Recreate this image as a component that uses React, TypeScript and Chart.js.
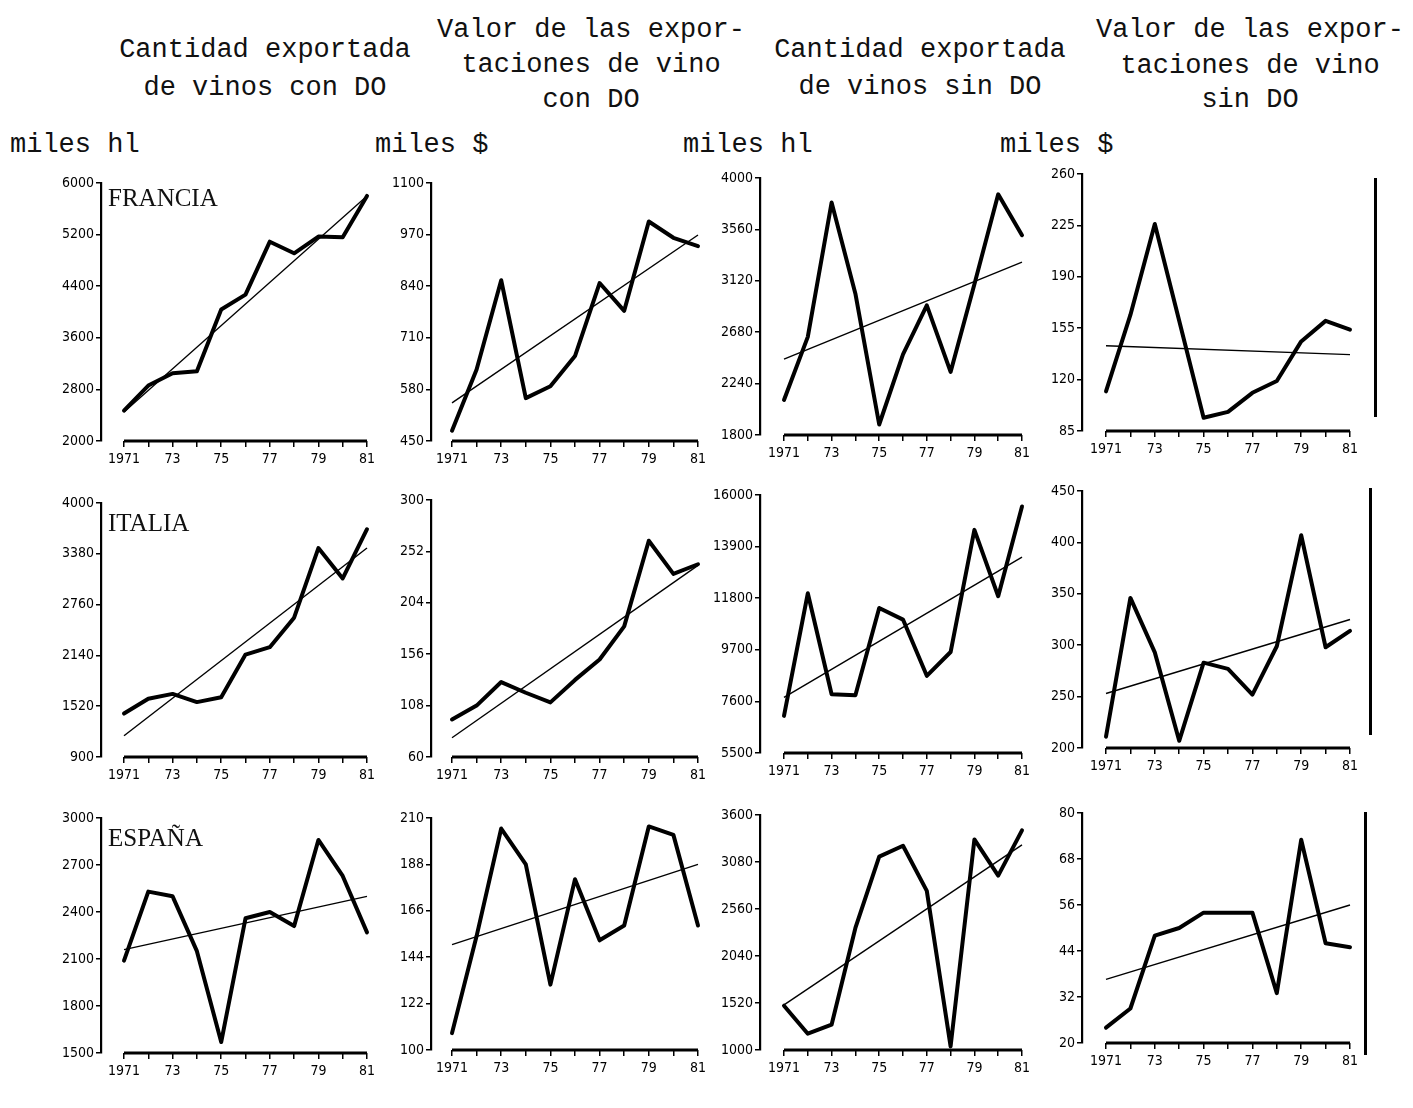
import React, { useEffect, useRef } from "react";
import { Chart, registerables } from "chart.js";
Chart.register(...registerables);

// ---------- data ----------
const years = [1971, 1972, 1973, 1974, 1975, 1976, 1977, 1978, 1979, 1980, 1981];
const trendYears = [1971, 1981];
const xTickLabels = ["1971", "", "73", "", "75", "", "77", "", "79", "", "81"];

const columnTitles = [
  ["Cantidad exportada", "de vinos con DO"],
  ["Valor de las expor-", "taciones de vino", "con DO"],
  ["Cantidad exportada", "de vinos sin DO"],
  ["Valor de las expor-", "taciones de vino", "sin DO"],
];
const unitLabels = ["miles hl", "miles $", "miles hl", "miles $"];
const countries = ["FRANCIA", "ITALIA", "ESPAÑA"];

// FRANCIA
const frCantDO = [2470, 2860, 3050, 3080, 4040, 4270, 5090, 4910, 5170, 5160, 5800];
const frCantDOTrend = [2450, 5800];
const frCantDOTicks = [2000, 2800, 3600, 4400, 5200, 6000];
const frValDO = [476, 630, 855, 558, 588, 664, 848, 778, 1003, 962, 941];
const frValDOTrend = [546, 969];
const frValDOTicks = [450, 580, 710, 840, 970, 1100];
const frCantSin = [2100, 2640, 3790, 3010, 1890, 2490, 2910, 2340, 3090, 3860, 3510];
const frCantSinTrend = [2450, 3280];
const frCantSinTicks = [1800, 2240, 2680, 3120, 3560, 4000];
const frValSin = [112, 164, 226, 160, 94, 98, 111, 119, 146, 160, 154];
const frValSinTrend = [143, 137];
const frValSinTicks = [85, 120, 155, 190, 225, 260];

// ITALIA
const itCantDO = [1430, 1610, 1670, 1570, 1630, 2150, 2240, 2600, 3450, 3080, 3680];
const itCantDOTrend = [1160, 3450];
const itCantDOTicks = [900, 1520, 2140, 2760, 3380, 4000];
const itValDO = [95, 108, 130, 120, 111, 132, 151, 182, 262, 231, 240];
const itValDOTrend = [78, 239];
const itValDOTicks = [60, 108, 156, 204, 252, 300];
const itCantSin = [7010, 12000, 7890, 7850, 11400, 10930, 8640, 9610, 14580, 11880, 15530];
const itCantSinTrend = [7760, 13470];
const itCantSinTicks = [5500, 7600, 9700, 11800, 13900, 16000];
const itValSin = [211, 346, 293, 207, 283, 277, 252, 299, 407, 298, 314];
const itValSinTrend = [253, 325];
const itValSinTicks = [200, 250, 300, 350, 400, 450];

// ESPAÑA
const esCantDO = [2090, 2530, 2500, 2150, 1570, 2360, 2400, 2310, 2860, 2630, 2270];
const esCantDOTrend = [2160, 2500];
const esCantDOTicks = [1500, 1800, 2100, 2400, 2700, 3000];
const esValDO = [108, 154, 205, 188, 131, 181, 152, 159, 206, 202, 159];
const esValDOTrend = [150, 188];
const esValDOTicks = [100, 122, 144, 166, 188, 210];
const esCantSin = [1490, 1180, 1280, 2350, 3140, 3260, 2760, 1040, 3330, 2930, 3430];
const esCantSinTrend = [1500, 3270];
const esCantSinTicks = [1000, 1520, 2040, 2560, 3080, 3600];
const esValSin = [24, 29, 48, 50, 54, 54, 54, 33, 73, 46, 45];
const esValSinTrend = [36.6, 56];
const esValSinTicks = [20, 32, 44, 56, 68, 80];

// ---------- layout ----------
type Geom = { ax: number; x71: number; x81: number; top: number; bot: number };
const colAx = [101, 431, 760, 1082];
const colX71 = [124, 452, 784, 1106];
const colX81 = [367, 698, 1022, 1350];
const rowTops = [
  [183, 183, 178, 174],
  [503, 500, 495, 491],
  [818, 818, 815, 813],
];
const rowBots = [
  [441, 441, 435, 431],
  [757, 757, 753, 748],
  [1053, 1050, 1050, 1043],
];

const panels = [
  [
    { v: frCantDO, t: frCantDOTrend, k: frCantDOTicks },
    { v: frValDO, t: frValDOTrend, k: frValDOTicks },
    { v: frCantSin, t: frCantSinTrend, k: frCantSinTicks },
    { v: frValSin, t: frValSinTrend, k: frValSinTicks },
  ],
  [
    { v: itCantDO, t: itCantDOTrend, k: itCantDOTicks },
    { v: itValDO, t: itValDOTrend, k: itValDOTicks },
    { v: itCantSin, t: itCantSinTrend, k: itCantSinTicks },
    { v: itValSin, t: itValSinTrend, k: itValSinTicks },
  ],
  [
    { v: esCantDO, t: esCantDOTrend, k: esCantDOTicks },
    { v: esValDO, t: esValDOTrend, k: esValDOTicks },
    { v: esCantSin, t: esCantSinTrend, k: esCantSinTicks },
    { v: esValSin, t: esValSinTrend, k: esValSinTicks },
  ],
];

const Y_W = 52;
const X_H = 36;
const PAD_T = 12;
const PAD_R = 22;
const fontFam = "'DejaVu Sans Condensed', 'Liberation Sans Narrow', 'Roboto Condensed', 'DejaVu Sans', sans-serif";
const yFont = { family: fontFam, size: 14 };
const xFont = { family: fontFam, size: 14 };

const xAxisLine = {
  id: "xAxisLine",
  afterDraw(chart: any) {
    const { ctx, chartArea, scales } = chart;
    const x0 = scales.x.getPixelForValue(years[0]);
    const x1 = scales.x.getPixelForValue(years[years.length - 1]);
    ctx.save();
    ctx.strokeStyle = "#000";
    ctx.lineWidth = 3;
    ctx.beginPath();
    ctx.moveTo(x0, chartArea.bottom);
    ctx.lineTo(x1, chartArea.bottom);
    ctx.stroke();
    ctx.restore();
  },
};

function Panel({ values, trend, ticks, g }: { values: number[]; trend: number[]; ticks: number[]; g: Geom }) {
  const ref = useRef<HTMLCanvasElement>(null);
  const width = Y_W + (g.x81 - g.ax) + PAD_R;
  const height = PAD_T + (g.bot - g.top) + X_H;
  useEffect(() => {
    const pxPerYear = (g.x81 - g.x71) / 10;
    const xmin = 1971 - (g.x71 - g.ax) / pxPerYear;
    const chart = new Chart(ref.current as HTMLCanvasElement, {
      type: "line",
      data: {
        datasets: [
          {
            data: trendYears.map((x, i) => ({ x, y: trend[i] })),
            borderColor: "#000",
            borderWidth: 1.4,
            pointRadius: 0,
            clip: false as any,
          },
          {
            data: years.map((x, i) => ({ x, y: values[i] })),
            borderColor: "#000",
            borderWidth: 4,
            borderJoinStyle: "round",
            borderCapStyle: "round",
            pointRadius: 0,
            clip: false as any,
          },
        ],
      },
      options: {
        responsive: false,
        animation: false,
        layout: { padding: { top: PAD_T, right: PAD_R, left: 0, bottom: 0 } },
        plugins: { legend: { display: false }, tooltip: { enabled: false } },
        scales: {
          x: {
            type: "linear",
            min: xmin,
            max: 1981,
            afterBuildTicks: (s: any) => {
              s.ticks = years.map((v) => ({ value: v }));
            },
            afterFit: (s: any) => {
              s.height = X_H;
            },
            grid: { display: true, drawOnChartArea: false, drawTicks: true, tickLength: 6, color: "#000", lineWidth: 1.5 },
            border: { display: false },
            ticks: {
              autoSkip: false,
              maxRotation: 0,
              color: "#000",
              padding: 4,
              font: xFont,
              callback: (_v: any, i: number) => xTickLabels[i],
            },
          },
          y: {
            type: "linear",
            min: ticks[0],
            max: ticks[ticks.length - 1],
            afterBuildTicks: (s: any) => {
              s.ticks = ticks.map((v) => ({ value: v }));
            },
            afterFit: (s: any) => {
              s.width = Y_W;
            },
            grid: { display: true, drawOnChartArea: false, drawTicks: true, tickLength: 5, color: "#000", lineWidth: 1.5 },
            border: { display: true, color: "#000", width: 2.2 },
            ticks: {
              color: "#000",
              padding: 2,
              font: yFont,
              callback: (v: any) => String(v),
            },
          },
        },
      },
      plugins: [xAxisLine],
    });
    return () => chart.destroy();
  }, []);
  return (
    <canvas
      ref={ref}
      width={width}
      height={height}
      style={{ position: "absolute", left: g.ax - Y_W, top: g.top - PAD_T, width, height }}
    />
  );
}

const titleX = [265, 591, 920, 1250];
const titleY = [[50, 88], [30, 65, 100], [50, 87], [30, 66, 100]];
const unitX = [10, 375, 683, 1000];
const countryY = [198, 523, 838];
const sideLines = [
  { x: 1374, y0: 178, y1: 417 },
  { x: 1369, y0: 488, y1: 735 },
  { x: 1364, y0: 812, y1: 1055 },
];

export default function App() {
  const mono = "'Liberation Mono', 'Courier New', monospace";
  return (
    <div style={{ position: "absolute", left: 0, top: 0, width: 1413, height: 1108, background: "#fff", overflow: "hidden" }}>
      {columnTitles.map((lines, c) =>
        lines.map((txt, j) => (
          <div
            key={`t${c}${j}`}
            style={{
              position: "absolute",
              left: titleX[c] - 200,
              width: 400,
              textAlign: "center",
              top: titleY[c][j] - 15,
              fontFamily: mono,
              fontSize: 27,
              lineHeight: "30px",
              color: "#111",
              whiteSpace: "pre",
            }}
          >
            {txt}
          </div>
        ))
      )}
      {unitLabels.map((u, c) => (
        <div
          key={`u${c}`}
          style={{ position: "absolute", left: unitX[c], top: 130, fontFamily: mono, fontSize: 27, lineHeight: "30px", color: "#111", whiteSpace: "pre" }}
        >
          {u}
        </div>
      ))}
      {countries.map((name, r) => (
        <div
          key={`c${r}`}
          style={{
            position: "absolute",
            left: 108,
            top: countryY[r] - 15,
            fontFamily: "'Liberation Serif', 'Times New Roman', serif",
            fontSize: 25,
            lineHeight: "30px",
            color: "#111",
            zIndex: 2,
          }}
        >
          {name}
        </div>
      ))}
      {sideLines.map((l, i) => (
        <div key={`l${i}`} style={{ position: "absolute", left: l.x, top: l.y0, width: 2.5, height: l.y1 - l.y0, background: "#000" }} />
      ))}
      {panels.map((row, r) =>
        row.map((p, c) => (
          <Panel
            key={`p${r}${c}`}
            values={p.v}
            trend={p.t}
            ticks={p.k}
            g={{ ax: colAx[c], x71: colX71[c], x81: colX81[c], top: rowTops[r][c], bot: rowBots[r][c] }}
          />
        ))
      )}
    </div>
  );
}
